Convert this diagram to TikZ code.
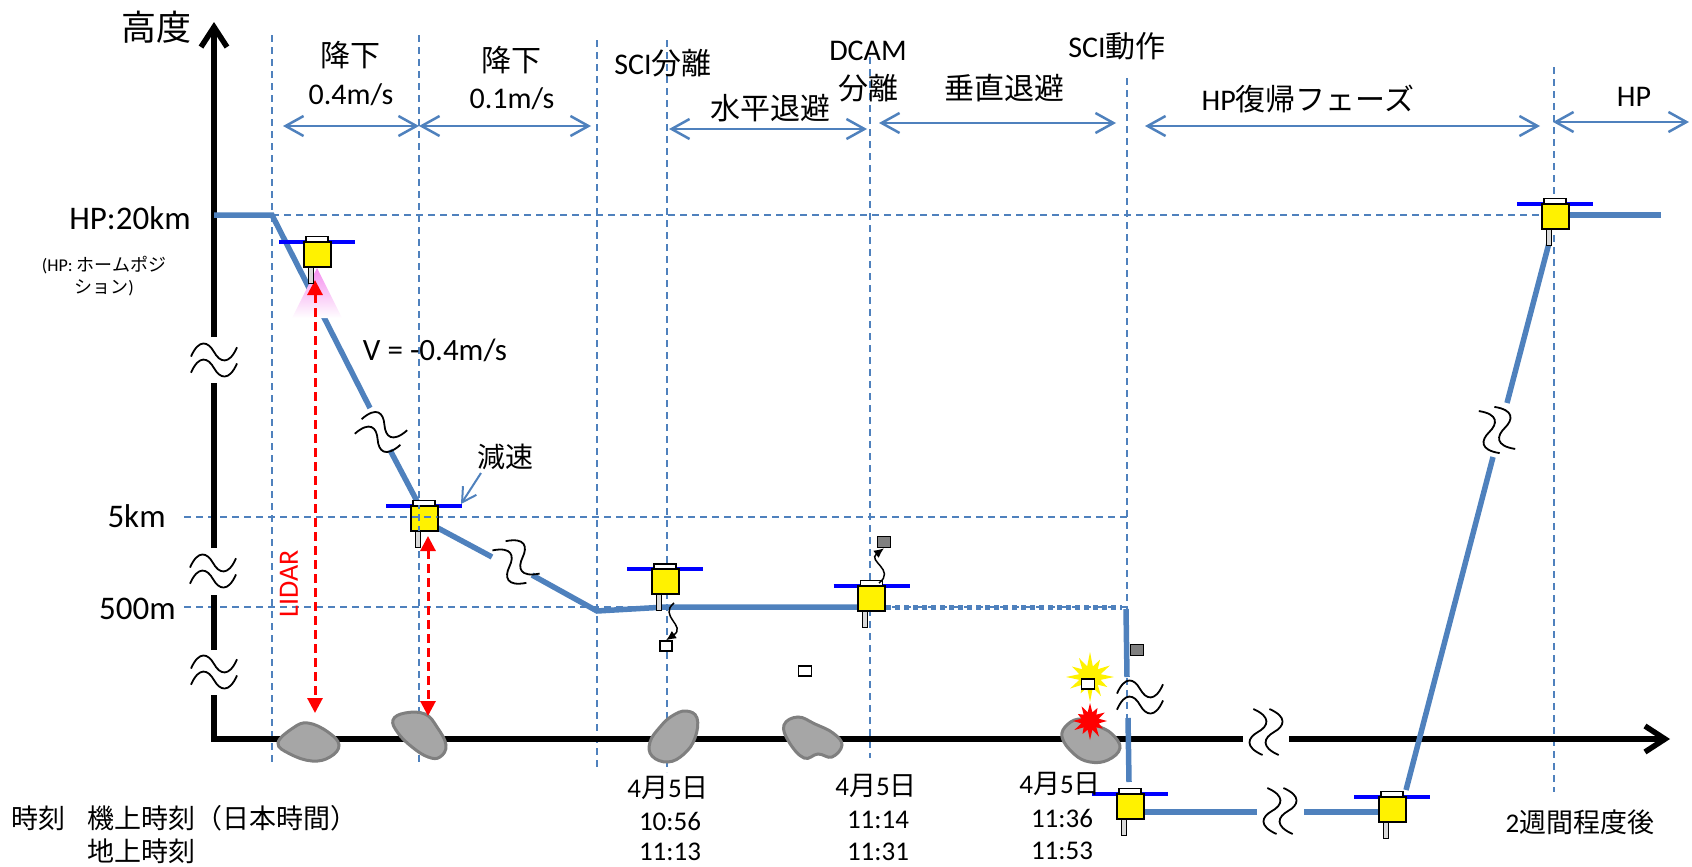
\documentclass[tikz,border=0pt]{standalone}
\usepackage{fontspec}
\setmainfont{Carlito}
\newfontfamily\jpfont{Noto Sans CJK JP}
\newcommand\J[1]{{\jpfont #1}}
\newcommand\setfs[1]{\fontsize{#1}{#1}\selectfont}
\usetikzlibrary{arrows.meta}
\definecolor{traj}{RGB}{79,129,189}
\definecolor{rockfill}{RGB}{166,166,166}
\definecolor{rockedge}{RGB}{127,127,127}
\definecolor{hornfill}{RGB}{217,217,217}
\definecolor{glow}{RGB}{244,140,238}
\begin{document}
\begin{tikzpicture}[x=0.5pt,y=-0.5pt,
  guide/.style={traj, line width=0.75pt, dash pattern=on 3.5pt off 2.5pt},
  trajline/.style={traj, line width=2.75pt},
  trajdot/.style={traj, line width=2.5pt, dash pattern=on 2.5pt off 2pt},
  span/.style={traj, line width=1.25pt,
    {Straight Barb[length=9pt,width=10pt]}-{Straight Barb[length=9pt,width=10pt]}},
  axisline/.style={line width=2.75pt, line join=miter},
  axistip/.style={-{Straight Barb[length=10pt,width=13pt]}},
  lidar/.style={red, line width=1.5pt, dash pattern=on 4.5pt off 2.5pt,
    {Triangle[length=7.5pt,width=7.5pt]}-{Triangle[length=7.5pt,width=7.5pt]}},
  rock/.style={fill=rockfill, draw=rockedge, line width=1.5pt},
  chip/.style={draw=black, line width=0.75pt},
  wave/.style={black, line width=0.75pt, -{Latex[length=5pt,width=4.5pt]}},
  lbl/.style={font=\setfs{15}, inner sep=0pt},
  axlbl/.style={font=\setfs{16.5}, inner sep=0pt},
  timelbl/.style={font=\setfs{13.5}, inner sep=0pt},
  brk/.pic={
    \begin{scope}[scale=1.15]
    \draw[line width=0.9pt] (-20,-3) .. controls (-13,-19) and (-5,-16) .. (0,-7)
        .. controls (5,2) and (13,5) .. (20,-11);
    \draw[line width=0.9pt] (-20,11) .. controls (-13,-5) and (-5,-2) .. (0,7)
        .. controls (5,16) and (13,19) .. (20,3);
    \end{scope}
  },
  lander/.pic={
    \draw[blue, line width=2pt] (-38,-12.5) -- (38,-12.5);
    \draw[fill=hornfill, line width=0.5pt] (-9,12.5) rectangle (-4,29);
    \draw[fill=white, line width=0.75pt] (-11,-17.5) rectangle (11,-12.5);
    \draw[fill=yellow, line width=1pt] (-13.5,-12.5) rectangle (13.5,12.5);
  }
]
\useasboundingbox (0,0) rectangle (1692,867);

% ---------- reference guides ----------
\foreach \x/\top/\bot in {272/35/763, 419/35/763, 597/40/768, 667/40/772,
                          870/57/758, 1127/78/785, 1554/67/792}
  \draw[guide] (\x,\top) -- (\x,\bot);
\draw[guide] (272,215) -- (1554,215);
\draw[guide] (184,517) -- (1127,517);
\draw[guide] (184,607) -- (1127,607);

% ---------- axes ----------
\coordinate (origin) at (214,739);
\coordinate (ytop) at (214,22);
\coordinate (xend) at (1670,739);
\draw[axisline] (214,695) -- (origin) -- (1243,739);
\draw[axisline] (214,650) -- (214,595);
\draw[axisline] (214,548) -- (214,383);
\draw[axisline, axistip] (214,337) -- (ytop);
\draw[axisline, axistip] (1289,739) -- (xend);
\pic at (214,360) {brk};
\pic at (213,571) {brk};
\pic at (214,672) {brk};
\pic[rotate=90] at (1266,732) {brk};

% ---------- surface boulders ----------
\draw[rock] plot[smooth cycle, tension=0.7] coordinates
  {(278,743) (293,728) (308,723) (328,732) (339,745) (330,757) (312,761) (290,754)};
\draw[rock] plot[smooth cycle, tension=0.7] coordinates
  {(393,720) (405,713) (425,714) (437,727) (446,745) (440,757) (428,757) (412,747) (398,733)};
\draw[rock] plot[smooth cycle, tension=0.7] coordinates
  {(686,711) (697,718) (695,738) (684,754) (668,762) (652,756) (650,742) (660,727) (672,716)};
\draw[rock] plot[smooth cycle, tension=0.7] coordinates
  {(784,725) (798,717) (815,724) (833,733) (842,745) (832,757) (818,754) (804,758) (789,742)};
\draw[rock] plot[smooth cycle, tension=0.7] coordinates
  {(1062,737) (1068,724) (1082,719) (1098,726) (1112,734) (1120,748) (1108,760) (1090,762) (1074,754)};

% ---------- altitude profile ----------
\draw[trajline] (214,215) -- (272,215) -- (370,408);
\draw[trajline] (390,450) -- (419,505);
\draw[trajline] (436,527) -- (492,557);
\draw[trajline] (532,575) -- (597,611) -- (666,607) -- (866,607);
\draw[trajdot] (886,607) -- (1122,607);
\draw[trajline] (1126,609) -- (1127,677);
\draw[trajline] (1128,718) -- (1129,782);
\draw[trajline] (1145,812) -- (1257,812);
\draw[trajline] (1304,812) -- (1380,812);
\draw[trajline] (1406,790) -- (1493,457);
\draw[trajline] (1507,403) -- (1549,243);
\draw[trajline] (1566,215) -- (1661,215);
\pic[rotate=-25] at (381,432) {brk};
\pic[rotate=-55] at (516,562) {brk};
\pic at (1140,697) {brk};
\pic[rotate=90] at (1280,811) {brk};
\pic[rotate=-75] at (1497,430) {brk};

% ---------- LIDAR ranging ----------
\shade[top color=glow, bottom color=white] (317,268) -- (342,318) -- (292,318) -- cycle;
\coordinate (lidA) at (315,280);
\coordinate (lidAg) at (315,713);
\coordinate (lidB) at (428,536);
\coordinate (lidBg) at (428,716);
\draw[lidar] (lidA) -- (lidAg);
\draw[lidar] (lidB) -- (lidBg);
\node[red, font=\setfs{14}, inner sep=0pt, rotate=90] (lidarlbl) at (289,584) {LIDAR};

% ---------- spacecraft ----------
\pic at (317,254) {lander};
\pic at (424,518) {lander};
\pic at (665,581.5) {lander};
\pic at (871.5,598) {lander};
\pic at (1130,806) {lander};
\pic at (1392,809) {lander};
\pic at (1555,216) {lander};
\begin{scope}
  \clip (410.5,505.5) rectangle (437.5,530.5);
  \draw[guide] (419,490) -- (419,545);
  \draw[guide] (400,517) -- (450,517);
\end{scope}

% ---------- released objects ----------
\node[chip, fill=white, minimum width=6pt, minimum height=5pt, inner sep=0pt] (sciobj) at (666,646) {};
\node[chip, fill=white, minimum width=6.5pt, minimum height=5pt, inner sep=0pt] (sciobj2) at (805,671) {};
\node[chip, fill=gray, minimum width=6.5pt, minimum height=5.5pt, inner sep=0pt] (dcamobj) at (884,542) {};
\node[chip, fill=gray, minimum width=6.5pt, minimum height=5.5pt, inner sep=0pt] (dcamobj2) at (1137,650) {};
\coordinate (sciout) at (674,603);
\coordinate (dcamout) at (879,583);
\draw[wave] (sciout) .. controls (658,616) and (687,626) .. (sciobj.north);
\draw[wave] (dcamout) .. controls (896,570) and (867,561) .. (dcamobj.south);

\begin{scope}[shift={(1090,677)}]
  \fill[yellow] (0:24) -- (15:11) -- (30:20) -- (45:11) -- (60:22) -- (75:11) -- (90:25)
    -- (105:11) -- (120:19) -- (135:11) -- (150:23) -- (165:11) -- (180:24) -- (195:11)
    -- (210:21) -- (225:11) -- (240:22) -- (255:11) -- (270:25) -- (285:11) -- (300:20)
    -- (315:11) -- (330:23) -- (345:11) -- cycle;
\end{scope}
\begin{scope}[shift={(1090,721)}]
  \fill[red] (0:17) -- (15:9) -- (30:15) -- (45:9) -- (60:18) -- (75:9) -- (90:19)
    -- (105:9) -- (120:15) -- (135:9) -- (150:18) -- (165:9) -- (180:17) -- (195:9)
    -- (210:14) -- (225:9) -- (240:17) -- (255:9) -- (270:18) -- (285:9) -- (300:15)
    -- (315:9) -- (330:17) -- (345:9) -- cycle;
\end{scope}
\node[chip, fill=white, minimum width=6.5pt, minimum height=5pt, inner sep=0pt] (sciobj3) at (1088,684) {};

% ---------- phase spans ----------
\coordinate (p0) at (283,126);
\coordinate (p1) at (419,126);
\coordinate (p2) at (591,126);
\draw[span] (p0) -- (p1);
\draw[span] (p1) -- (p2);
\draw[span] (669,129) coordinate (p3) -- (867,129) coordinate (p4);
\draw[span] (879,123) coordinate (p5) -- (1116,123) coordinate (p6);
\draw[span] (1145,126) coordinate (p7) -- (1540,126) coordinate (p8);
\draw[span] (1553,122) coordinate (p9) -- (1689,122) coordinate (p10);

\node[lbl] (d1) at (350,55) {\J{降下}};
\node[lbl] (d1v) at (351,95) {0.4m/s};
\node[lbl] (d2) at (511,60) {\J{降下}};
\node[lbl] (d2v) at (512,99) {0.1m/s};
\node[lbl] (scisep) at (663,63) {SCI\J{分離}};
\node[lbl] (dcam) at (868,51) {DCAM};
\node[lbl] (dcamsep) at (868,88) {\J{分離}};
\node[lbl] (horiz) at (770,108) {\J{水平退避}};
\node[lbl] (vert) at (1004,88) {\J{垂直退避}};
\node[lbl] (sciact) at (1117,46) {SCI\J{動作}};
\node[lbl] (hpret) at (1308,99) {HP\J{復帰フェーズ}};
\node[lbl] (hpstay) at (1634,97) {HP};

% ---------- altitude labels ----------
\node[font=\setfs{17.5}, inner sep=0pt] (alt) at (156,27) {\J{高度}};
\node[axlbl, anchor=east] (hp20) at (191,218) {HP:20km};
\node[font=\setfs{9}, inner sep=0pt, align=center] (hpnote) at (104,276)
  {(HP: \J{ホームポジ}\\[2pt]\J{ション})};
\node[axlbl, anchor=east] (km5) at (166,516) {5km};
\node[axlbl, anchor=east] (m500) at (176,609) {500m};

\node[font=\setfs{15.5}, inner sep=0pt] (vel) at (435,350) {V = -0.4m/s};
\node[font=\setfs{14}, inner sep=0pt] (decel) at (505,457) {\J{減速}};
\coordinate (barend) at (461,504);
\draw[traj, line width=1pt, -{Straight Barb[length=7pt,width=8pt]}] (481,473) -- (barend);

% ---------- timestamps ----------
\node[timelbl] (tlab) at (38,818) {\J{時刻}};
\node[timelbl, anchor=west] (onboard) at (87,818) {\J{機上時刻（日本時間）}};
\node[timelbl, anchor=west] (ground) at (87,851) {\J{地上時刻}};
\node[timelbl] (date1) at (668,788) {4\J{月}5\J{日}};
\node[timelbl] (ob1) at (670,821) {10:56};
\node[timelbl] (gr1) at (670,852) {11:13};
\node[timelbl] (date2) at (876,786) {4\J{月}5\J{日}};
\node[timelbl] (ob2) at (878,820) {11:14};
\node[timelbl] (gr2) at (878,852) {11:31};
\node[timelbl] (date3) at (1060,784) {4\J{月}5\J{日}};
\node[timelbl] (ob3) at (1062,818) {11:36};
\node[timelbl] (gr3) at (1062,851) {11:53};
\node[timelbl] (later) at (1580,822) {2\J{週間程度後}};
\end{tikzpicture}
\end{document}
